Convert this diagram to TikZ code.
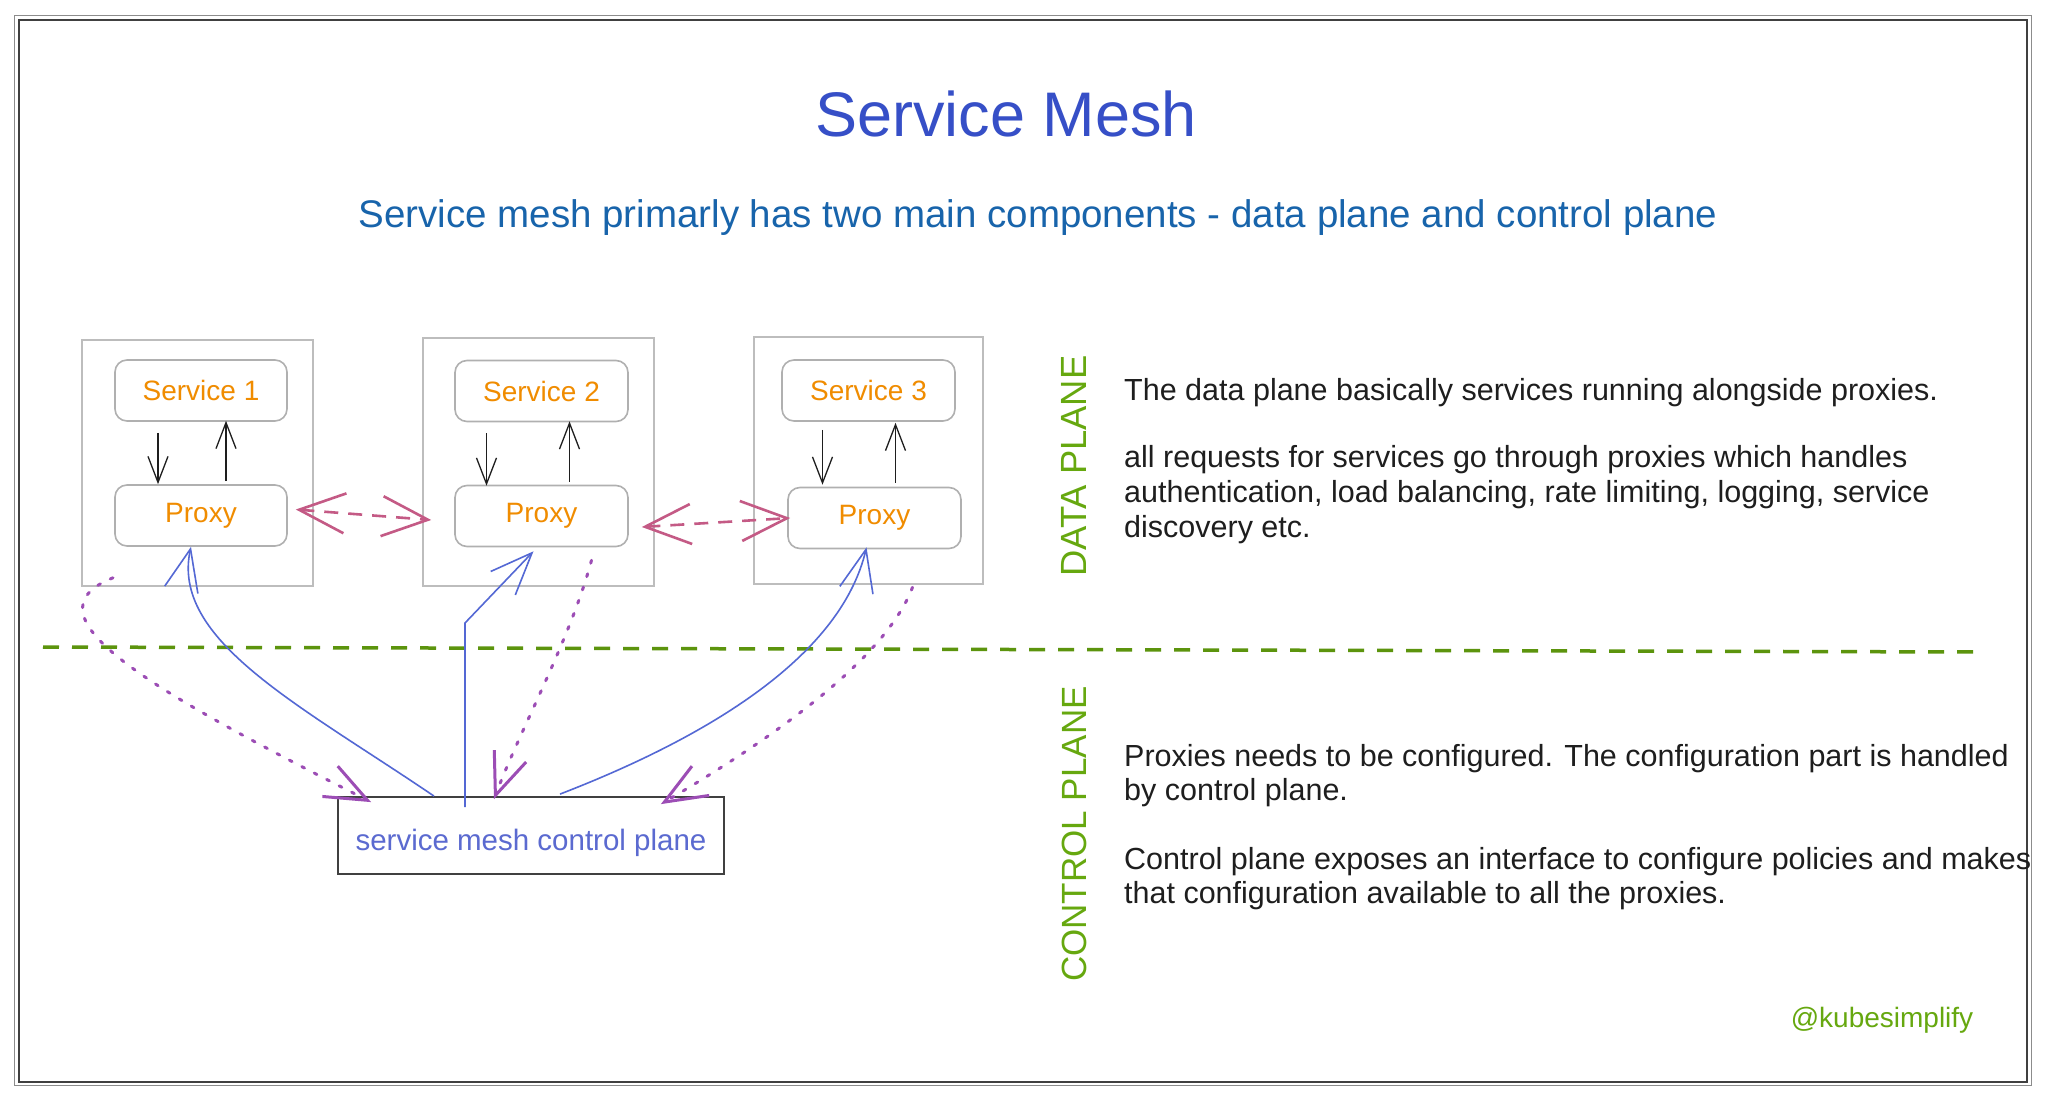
\documentclass[tikz,border=0pt]{standalone}
\usepackage{fontspec}
\setmainfont{Liberation Sans}
\usetikzlibrary{arrows.meta,calc}
\definecolor{titleblue}{HTML}{364FC7}
\definecolor{subblue}{HTML}{1864AB}
\definecolor{svcorange}{HTML}{F08C00}
\definecolor{planegreen}{HTML}{66A80F}
\definecolor{linegreen}{HTML}{5C940D}
\definecolor{dotpurple}{HTML}{9C4DB5}
\definecolor{cblue}{HTML}{5468D4}
\definecolor{ctltext}{HTML}{5B6AD0}
\definecolor{pinkarrow}{HTML}{C45A85}
\definecolor{boxgray}{HTML}{BDBDBD}
\definecolor{innergray}{HTML}{B0B0B0}
\definecolor{inkdark}{HTML}{1E1E1E}
\newcommand{\myfs}[1]{\fontsize{#1pt}{#1pt}\selectfont}
\begin{document}
\begin{tikzpicture}[x=1pt,y=-1pt,
  container/.style={draw=boxgray, line width=1.8pt, minimum width=231pt, minimum height=246pt, inner sep=0pt},
  svc/.style={draw=innergray, rounded corners=12pt, line width=1.6pt, minimum width=172pt, minimum height=61pt, text=svcorange, font=\myfs{28}, inner sep=0pt},
  flow/.style={draw=inkdark, line width=1.3pt, -{Straight Barb[length=26pt,width=20pt]}},
  pinkarr/.style={draw=pinkarrow, line width=2.6pt, dash pattern=on 14pt off 10pt, {Straight Barb[length=46pt,width=40pt]}-{Straight Barb[length=46pt,width=40pt]}},
  cline/.style={draw=cblue, line width=1.6pt, -{Straight Barb[length=42pt,width=34pt]}},
  dotline/.style={draw=dotpurple, line width=3pt, line cap=round, dash pattern=on 3pt off 11pt, -{Straight Barb[length=42pt,width=34pt]}},
  bodytext/.style={anchor=base west, font=\myfs{30.5}, text=inkdark, inner sep=0pt},
  planelabel/.style={rotate=90, font=\myfs{35}, text=planegreen}
]
\fill[white] (0,0) rectangle (2048,1094);
\useasboundingbox (0,0) rectangle (2048,1094);

% frame
\draw[black!45, line width=1pt] (14,16) rectangle (2031,1085);
\draw[black!75, line width=2pt] (19,20) rectangle (2027,1082);

% title
\node[anchor=base, font=\myfs{63}, text=titleblue] (title) at (1006,137) {Service Mesh};
\node[anchor=base, font=\myfs{38.5}, text=subblue] (sub) at (1038,228) {Service mesh primarly has two main components - data plane and control plane};

% containers
\node[container] (c1) at (197.5,463) {};
\node[container, minimum height=248pt] (c2) at (538.5,462) {};
\node[container, minimum width=229pt, minimum height=247pt] (c3) at (868.5,460.5) {};

\node[svc] (s1) at (201,390.5) {Service 1};
\node[svc] (p1) at (201,515.5) {Proxy};
\node[svc, minimum width=173pt] (s2) at (541.5,391) {Service 2};
\node[svc, minimum width=173pt] (p2) at (541.5,516) {Proxy};
\node[svc, minimum width=173pt] (s3) at (868.5,390.5) {Service 3};
\node[svc, minimum width=173pt] (p3) at (874.5,518) {Proxy};

% service <-> proxy
\draw[flow] ([shift={(-43,11)}]s1.south) -- ([shift={(-43,0)}]p1.north);
\draw[flow] ([shift={(25,-3)}]p1.north) -- ([shift={(25,-1)}]s1.south);
\draw[flow] ([shift={(-55,11)}]s2.south) -- ([shift={(-55,1)}]p2.north);
\draw[flow] ([shift={(28,-3)}]p2.north) -- ([shift={(28,-1)}]s2.south);
\draw[flow] ([shift={(-46,8)}]s3.south) -- ([shift={(-52,-2)}]p3.north);
\draw[flow] ([shift={(21,-4)}]p3.north) -- ([shift={(27,1)}]s3.south);

% proxy <-> proxy
\draw[pinkarr] ([shift={(8,-6)}]p1.east) -- ([shift={(-23,4)}]p2.west);
\draw[pinkarr] ([shift={(13,11)}]p2.east) -- ([shift={(3,0)}]p3.west);

% divider
\coordinate (gl1) at (43,647);
\coordinate (gl2) at (1979,652);
\draw[linegreen, line width=3.5pt, dash pattern=on 16pt off 13pt] (gl1) -- (gl2);

% control plane box
\node[draw=inkdark!85, line width=1.8pt, minimum width=386pt, minimum height=77pt, text height=30pt, text depth=0pt, text=ctltext, font=\myfs{29.5}] (ctl) at (531,835.5) {service mesh control plane};

% control -> proxies
\coordinate (bend2) at (465,623);
\draw[cline] ([shift={(-97,0)}]ctl.north) .. controls (300,705) and (170,640) .. ([shift={(-10,0)}]p1.south);
\draw[cline] ([shift={(-66,11)}]ctl.north) -- (bend2) -- ([shift={(-8,4)}]p2.south);
\draw[cline] ([shift={(29,-2)}]ctl.north) .. controls (700,740) and (840,660) .. ([shift={(-8,-2)}]p3.south);

% proxies -> control (dotted)
\draw[dotline] ([shift={(-88,31)}]p1.south) .. controls (20,615) and (150,690) .. ([shift={(34,6)}]ctl.north west);
\draw[dotline] ([shift={(50,13)}]p2.south) .. controls (570,640) and (520,730) .. ([shift={(-37,3)}]ctl.north);
\draw[dotline] ([shift={(38,38)}]p3.south) .. controls (885,660) and (770,740) .. ([shift={(-64,8)}]ctl.north east);

% plane labels
\node[planelabel, font=\myfs{36.4}] (dp) at (1074,466) {DATA PLANE};
\node[planelabel] (cp) at (1074,834) {CONTROL PLANE};

% body text
\node[bodytext] (t1) at (1124,400) {The data plane basically services running alongside proxies.};
\node[bodytext] (t2) at (1124,467) {all requests for services go through proxies which handles};
\node[bodytext] (t3) at (1124,502) {authentication, load balancing, rate limiting, logging, service};
\node[bodytext] (t4) at (1124,537) {discovery etc.};
\node[bodytext] (t5) at (1124,766) {Proxies needs to be configured. The configuration part is handled};
\node[bodytext] (t6) at (1124,800) {by control plane.};
\node[bodytext] (t7) at (1124,869) {Control plane exposes an interface to configure policies and makes};
\node[bodytext] (t8) at (1124,903) {that configuration available to all the proxies.};

\node[font=\myfs{28}, text=planegreen] (handle) at (1882,1020) {@kubesimplify};
\end{tikzpicture}
\end{document}
